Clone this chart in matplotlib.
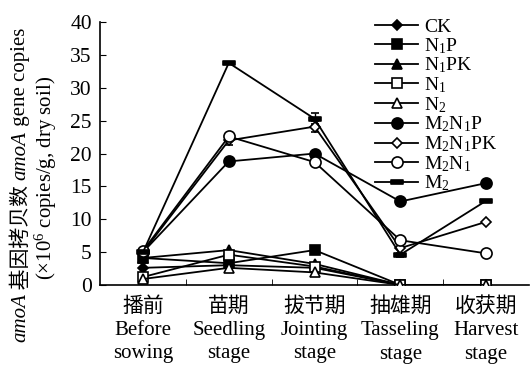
import numpy as np
import matplotlib
matplotlib.use("Agg")
import matplotlib.pyplot as plt
from matplotlib.path import Path as MPath

plt.rcParams["font.family"] = ["Liberation Serif", "Noto Sans CJK SC"]
plt.rcParams["mathtext.fontset"] = "custom"
plt.rcParams["mathtext.rm"] = "Liberation Serif"
plt.rcParams["mathtext.it"] = "Liberation Serif:italic"

stages = ["播前\nBefore\nsowing", "苗期\nSeedling\nstage", "拔节期\nJointing\nstage",
          "抽雄期\nTasseling\nstage", "收获期\nHarvest\nstage"]

labels = ["CK", "N$_1$P", "N$_1$PK", "N$_1$", "N$_2$",
          "M$_2$N$_1$P", "M$_2$N$_1$PK", "M$_2$N$_1$", "M$_2$"]

ck      = [2.6, 3.0, 2.6, 0.0, 0.0]
n1p     = [4.1, 3.3, 5.3, 0.0, 0.0]
n1pk    = [4.1, 5.3, 3.2, 0.0, 0.0]
n1      = [1.2, 4.6, 2.8, 0.0, 0.0]
n2      = [0.9, 2.6, 1.9, 0.0, 0.0]
m2n1p   = [5.0, 18.8, 20.0, 12.7, 15.5]
m2n1pk  = [5.0, 22.0, 24.1, 5.6, 9.6]
m2n1    = [5.2, 22.6, 18.7, 6.8, 4.8]
m2      = [5.0, 33.8, 25.3, 4.6, 12.8]

err_m2n1pk = [0.0, 0.7, 0.8, 0.0, 0.0]
err_m2     = [0.0, 0.2, 0.8, 0.3, 0.0]

series = [ck, n1p, n1pk, n1, n2, m2n1p, m2n1pk, m2n1, m2]
errs = [None, None, None, None, None, None, err_m2n1pk, None, err_m2]

dash = MPath([(-1, -0.38), (1, -0.38), (1, 0.38), (-1, 0.38), (-1, -0.38)],
             [MPath.MOVETO, MPath.LINETO, MPath.LINETO, MPath.LINETO, MPath.CLOSEPOLY])
styles = [("D", "black", 5.5), ("s", "black", 7), ("^", "black", 7),
          ("s", "white", 7), ("^", "white", 7), ("o", "black", 8),
          ("D", "white", 5.5), ("o", "white", 8), (dash, "black", 9)]

FS = 15
fig = plt.figure(figsize=(5.3, 3.7), dpi=100)
ax = fig.add_axes([0.189, 0.23, 0.809, 0.71])
x = np.arange(len(stages))

for vals, err, lab, (mk, fc, ms) in zip(series, errs, labels, styles):
    ax.errorbar(x, vals, yerr=err, color="black", lw=1.3, marker=mk, ms=ms,
                mfc=fc, mec="black", mew=1.2, capsize=3, elinewidth=1,
                label=lab, zorder=3)

ax.set_xlim(-0.5, 4.5)
ax.set_ylim(0, 40)
ax.set_yticks(range(0, 41, 5))
ax.set_xticks(x)
ax.set_xticklabels(stages, fontsize=FS, linespacing=1.3)
ax.set_xticks(np.arange(0.5, 4.5, 1), minor=True)
ax.tick_params(axis="x", which="major", length=0, pad=9)
ax.tick_params(axis="x", which="minor", direction="in", length=4)
ax.tick_params(axis="y", direction="in", length=4, labelsize=15.5, pad=6)
for s in ["top", "right"]:
    ax.spines[s].set_visible(False)
for s in ["left", "bottom"]:
    ax.spines[s].set_linewidth(1.2)

handles, labs = ax.get_legend_handles_labels()
handles = [h[0] if hasattr(h, "__getitem__") else h for h in handles]
ax.legend(handles, labs, loc="upper left", bbox_to_anchor=(0.642, 1.015),
          frameon=False, fontsize=14, handlelength=2.2, handletextpad=0.3,
          labelspacing=0.0, borderaxespad=0, borderpad=0)

# y label, two rotated lines built from pieces of different fonts
fig.canvas.draw()
rend = fig.canvas.get_renderer()
pieces = [("amoA", dict(style="italic", family="Liberation Serif")),
          (" 基因拷贝数 ", dict(family="Noto Sans CJK SC")),
          ("amoA", dict(style="italic", family="Liberation Serif")),
          (" gene copies", dict(family="Liberation Serif"))]
texts = []
total = 0
for s, kw in pieces:
    t = fig.text(0, 0, s, rotation=90, fontsize=FS, va="center", ha="center", **kw)
    bb = t.get_window_extent(rend)
    texts.append((t, bb.height))
    total += bb.height
ymid = 370 - 185
y0 = ymid - total / 2
for t, h in texts:
    t.set_position((21 / 530, (y0 + h / 2) / 370))
    y0 += h
fig.text(46 / 530, 1 - 178 / 370, r"($\times$10$^6$ copies/g, dry soil)",
         rotation=90, fontsize=FS, va="center", ha="center")

fig.savefig("out.png", dpi=100)
